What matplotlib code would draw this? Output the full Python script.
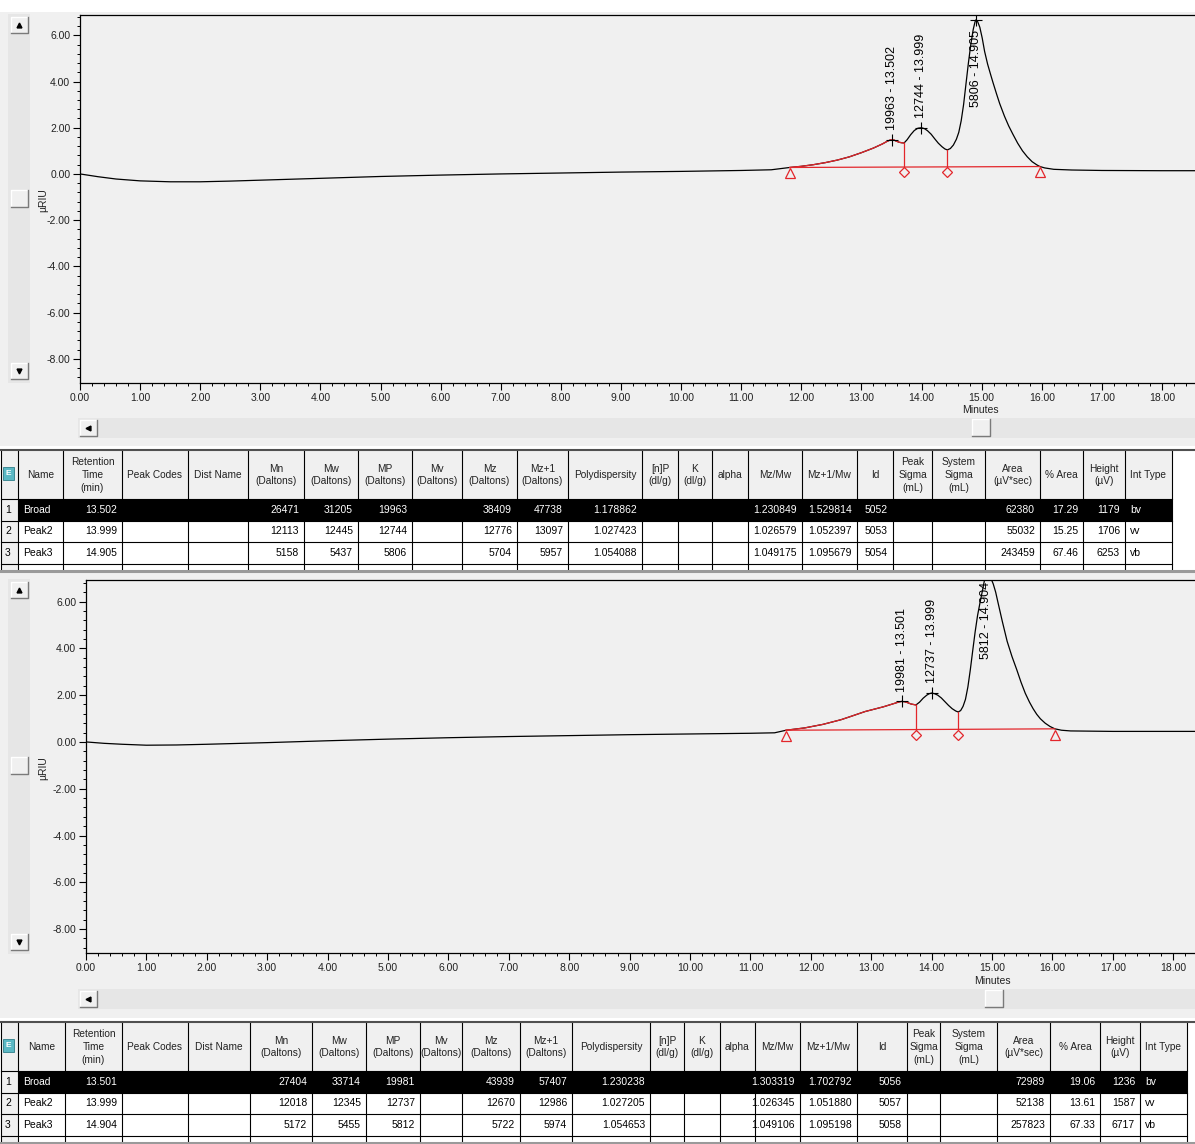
import numpy as np
import matplotlib
matplotlib.use('Agg')
import matplotlib.pyplot as plt
from matplotlib.patches import Rectangle
from matplotlib.ticker import MultipleLocator, FormatStrFormatter

plt.rcParams['font.family'] = ['Liberation Sans', 'DejaVu Sans']

W, H = 1195, 1144

# ---- run 1 trace (minutes, uRIU)
time_1 = [0.0, 0.3, 0.6, 1.0, 1.5, 2.0, 2.5, 3.0, 4.0, 5.0, 6.0, 7.0, 8.0, 9.0, 10.0, 11.0, 11.5, 11.81,
          12.0, 12.2, 12.4, 12.6, 12.8, 13.0, 13.2, 13.35, 13.42, 13.47, 13.502, 13.54, 13.58, 13.63, 13.67, 13.71,
          13.76, 13.82, 13.88, 13.94, 13.999, 14.05, 14.1, 14.16, 14.22, 14.28, 14.34, 14.39, 14.43,
          14.48, 14.53, 14.58, 14.62, 14.66, 14.7, 14.74, 14.78, 14.82, 14.86, 14.89, 14.905,
          14.93, 14.97, 15.01, 15.05, 15.1, 15.15, 15.19, 15.25, 15.3, 15.38, 15.45, 15.52, 15.6, 15.68,
          15.76, 15.84, 15.92, 15.97, 16.05, 16.2, 16.5, 17.0, 18.0, 18.55]
signal_1 = [0.0, -0.12, -0.22, -0.3, -0.34, -0.34, -0.31, -0.27, -0.19, -0.11, -0.05, 0.0, 0.04, 0.08, 0.11, 0.15, 0.18, 0.28,
            0.33, 0.4, 0.49, 0.6, 0.74, 0.92, 1.12, 1.3, 1.4, 1.46, 1.48, 1.47, 1.42, 1.37, 1.35, 1.34,
            1.48, 1.7, 1.88, 1.98, 2.0, 1.96, 1.87, 1.72, 1.52, 1.33, 1.18, 1.08, 1.04,
            1.1, 1.25, 1.5, 1.8, 2.3, 3.0, 3.9, 4.8, 5.6, 6.25, 6.58, 6.67,
            6.62, 6.35, 5.88, 5.3, 4.75, 4.3, 3.95, 3.45, 3.05, 2.5, 2.08, 1.72, 1.33, 1.0,
            0.74, 0.53, 0.39, 0.32, 0.26, 0.2, 0.17, 0.15, 0.14, 0.14]
marks_1 = [11.81, 13.71, 14.43, 15.97]

# ---- run 2 trace
time_2 = [0.0, 0.3, 0.6, 1.0, 1.5, 2.0, 3.0, 4.0, 5.0, 6.0, 7.0, 8.0, 9.0, 10.0, 11.0, 11.4, 11.59,
          11.9, 12.2, 12.5, 12.65, 12.9, 13.2, 13.3, 13.4, 13.46, 13.501, 13.55, 13.6, 13.66, 13.74,
          13.8, 13.86, 13.92, 13.96, 13.999, 14.05, 14.1, 14.16, 14.22, 14.28, 14.34, 14.4, 14.44,
          14.48, 14.52, 14.56, 14.6, 14.64, 14.68, 14.72, 14.76, 14.8, 14.84, 14.87, 14.904,
          14.94, 14.98, 15.02, 15.06, 15.1, 15.17, 15.25, 15.33, 15.41, 15.48, 15.55, 15.62, 15.68,
          15.74, 15.8, 15.88, 15.96, 16.04, 16.15, 16.3, 17.0, 18.0, 18.36]
signal_2 = [0.0, -0.06, -0.1, -0.14, -0.13, -0.1, -0.03, 0.05, 0.12, 0.18, 0.23, 0.27, 0.31, 0.34, 0.37, 0.39, 0.5,
            0.6, 0.75, 0.95, 1.08, 1.3, 1.5, 1.58, 1.66, 1.71, 1.73, 1.72, 1.68, 1.62, 1.58,
            1.7, 1.87, 2.0, 2.06, 2.09, 2.06, 2.0, 1.88, 1.72, 1.56, 1.42, 1.32, 1.28,
            1.34, 1.52, 1.82, 2.35, 3.08, 3.9, 4.7, 5.4, 5.94, 6.45, 6.85, 7.2,
            7.15, 7.0, 6.75, 6.4, 5.94, 5.15, 4.3, 3.65, 3.08, 2.55, 2.08, 1.7, 1.42,
            1.18, 0.99, 0.8, 0.66, 0.56, 0.5, 0.47, 0.45, 0.45, 0.45]
marks_2 = [11.59, 13.74, 14.44, 16.04]
mark_styles = ['^', 'D', 'D', '^']

# ---- result tables
headers = ['Name', 'Retention\nTime\n(min)', 'Peak Codes', 'Dist Name', 'Mn\n(Daltons)', 'Mw\n(Daltons)',
           'MP\n(Daltons)', 'Mv\n(Daltons)', 'Mz\n(Daltons)', 'Mz+1\n(Daltons)', 'Polydispersity',
           '[n]P\n(dl/g)', 'K\n(dl/g)', 'alpha', 'Mz/Mw', 'Mz+1/Mw', 'Id', 'Peak\nSigma\n(mL)',
           'System\nSigma\n(mL)', 'Area\n(µV*sec)', '% Area', 'Height\n(µV)', 'Int Type']
peak_names = ['Broad', 'Peak2', 'Peak3']
int_types = ['bv', 'vv', 'vb']

rt_1 = ['13.502', '13.999', '14.905']
mn_1 = [26471, 12113, 5158]
mw_1 = [31205, 12445, 5437]
mp_1 = [19963, 12744, 5806]
mz_1 = [38409, 12776, 5704]
mz1_1 = [47738, 13097, 5957]
pd_1 = ['1.178862', '1.027423', '1.054088']
mzmw_1 = ['1.230849', '1.026579', '1.049175']
mz1mw_1 = ['1.529814', '1.052397', '1.095679']
id_1 = [5052, 5053, 5054]
area_1 = [62380, 55032, 243459]
pct_1 = ['17.29', '15.25', '67.46']
height_1 = [1179, 1706, 6253]

rt_2 = ['13.501', '13.999', '14.904']
mn_2 = [27404, 12018, 5172]
mw_2 = [33714, 12345, 5455]
mp_2 = [19981, 12737, 5812]
mz_2 = [43939, 12670, 5722]
mz1_2 = [57407, 12986, 5974]
pd_2 = ['1.230238', '1.027205', '1.054653']
mzmw_2 = ['1.303319', '1.026345', '1.049106']
mz1mw_2 = ['1.702792', '1.051880', '1.095198']
id_2 = [5056, 5057, 5058]
area_2 = [72989, 52138, 257823]
pct_2 = ['19.06', '13.61', '67.33']
height_2 = [1236, 1587, 6717]

RED = '#e3262b'
GRAY = '#f0f0f0'

fig = plt.figure(figsize=(W / 100, H / 100), dpi=100, facecolor=GRAY)
bg = fig.add_axes([0, 0, 1, 1])
bg.set_xlim(0, W)
bg.set_ylim(H, 0)
bg.axis('off')


def px_axes(x0, y0, x1, y1):
    return fig.add_axes([x0 / W, 1 - y1 / H, (x1 - x0) / W, (y1 - y0) / H])


def button(x0, y0, x1, y1, glyph=None):
    bg.add_patch(Rectangle((x0, y0), x1 - x0, y1 - y0, fc=GRAY, ec='none'))
    bg.plot([x0, x0, x1], [y1, y0, y0], color='white', lw=1)
    bg.plot([x0, x1, x1], [y1, y1, y0], color='#7a7a7a', lw=1)
    if glyph:
        bg.plot((x0 + x1) / 2, (y0 + y1) / 2, marker=glyph, color='black', ms=3.5)


def scrollbars(vy0, vy1, vthumb, hy, hthumb, minutes_xy):
    # vertical bar
    bg.add_patch(Rectangle((8, vy0), 22, vy1 - vy0, fc='#e6e6e6', ec='none'))
    button(11, vy0 + 3, 28, vy0 + 19, '^')
    button(11, vthumb, 28, vthumb + 17)
    button(11, vy1 - 20, 28, vy1 - 4, 'v')
    # horizontal bar
    bg.add_patch(Rectangle((78, hy), W - 78, 20, fc='#e6e6e6', ec='none'))
    button(80, hy + 2, 97, hy + 18, '<')
    button(hthumb, hy + 1, hthumb + 18, hy + 18)
    bg.text(minutes_xy[0], minutes_xy[1], 'Minutes', ha='center', va='center', fontsize=7.5, color='#222222')


def chart(box, t, s, marks, rts, mps, ylim, xmax, label_tops, mark_off):
    ax = px_axes(*box)
    ax.set_facecolor(GRAY)
    t = np.array(t)
    s = np.array(s)
    ax.plot(t, s, color='black', lw=0.9)
    red = (t >= marks[0]) & (t <= marks[1])
    ax.plot(t[red], s[red], color=RED, lw=0.9)
    base = np.interp([marks[0], marks[-1]], t, s)
    ax.plot([marks[0], marks[-1]], base, color=RED, lw=0.9)
    for m, st in zip(marks, mark_styles):
        b = np.interp(m, [marks[0], marks[-1]], base)
        if st == 'D':
            ax.plot([m, m], [b, np.interp(m, t, s)], color=RED, lw=0.9)
        ax.plot(m, b - mark_off, marker=st, mfc='none', mec=RED, ms=6.5 if st == '^' else 5.5, mew=0.9)
    for rt, mp, top in zip(rts, mps, label_tops):
        x = float(rt)
        y = np.interp(x, t, s)
        ax.plot(x, y, marker='+', color='black', ms=9, mew=0.8)
        txt = f'{mp} - {rt}'
        if top is None:
            ax.text(x, y + 0.42, txt, rotation=90, ha='center', va='bottom', fontsize=9)
        else:
            ax.text(x, top, txt, rotation=90, ha='center', va='top', fontsize=9)
    ax.set_xlim(0, xmax)
    ax.set_ylim(*ylim)
    ax.xaxis.set_major_locator(MultipleLocator(1))
    ax.xaxis.set_minor_locator(MultipleLocator(0.2))
    ax.yaxis.set_major_locator(MultipleLocator(2))
    ax.yaxis.set_minor_locator(MultipleLocator(0.4))
    ax.xaxis.set_major_formatter(FormatStrFormatter('%.2f'))
    ax.yaxis.set_major_formatter(FormatStrFormatter('%.2f'))
    ax.spines['right'].set_visible(False)
    for sp in ['left', 'bottom', 'top']:
        ax.spines[sp].set_linewidth(0.9)
    ax.tick_params(which='major', labelsize=7.5, length=5, width=0.8, pad=2, labelcolor='#222222')
    ax.tick_params(which='minor', length=2.5, width=0.7)
    return ax


def draw_table(y_top, edges, cols):
    hdr_h = 48
    row_h = 21.5
    hdr_bot = y_top + hdr_h
    y_end = hdr_bot + 3 * row_h + 7
    x0, x1 = edges[0], edges[-1]
    bg.add_patch(Rectangle((0, y_top - 5), W, y_end - y_top + 5, fc='white', ec='none'))
    bg.add_patch(Rectangle((x0, y_top), x1 - x0, hdr_h, fc=GRAY, ec='none'))
    bg.add_patch(Rectangle((x0, hdr_bot), edges[1] - x0, y_end - hdr_bot, fc=GRAY, ec='none'))
    for x in edges:
        bg.plot([x, x], [y_top, y_end], color='black', lw=0.8)
    for k in range(4):
        y = hdr_bot + k * row_h
        bg.plot([x0, x1], [y, y], color='black', lw=0.8)
    bg.add_patch(Rectangle((edges[1] + 0.5, hdr_bot + 0.5), x1 - edges[1] - 0.5, row_h - 0.5, fc='black', ec='none', zorder=3))
    bg.plot([0, W], [y_top - 1, y_top - 1], color='#505050', lw=1.5)
    bg.plot([0, W], [y_end, y_end], color='#9a9a9a', lw=2.2)
    # header
    bg.add_patch(Rectangle((x0 + 2, y_top + 16), 11, 13, fc='#5bb8c4', ec='#2f7f8a', lw=0.6))
    bg.text(x0 + 7.5, y_top + 22.5, 'E', ha='center', va='center', fontsize=6, color='white', fontweight='bold')
    for j, h in enumerate(headers):
        cx = (edges[j + 1] + edges[j + 2]) / 2
        bg.text(cx, y_top + hdr_h / 2, h, ha='center', va='center', fontsize=7.3, linespacing=1.35, color='#222222')
    # rows
    left_cols = {0, 22}
    for i in range(3):
        cy = hdr_bot + i * row_h + row_h / 2
        color = 'white' if i == 0 else 'black'
        bg.text(x0 + 4, cy, str(i + 1), ha='left', va='center', fontsize=7.5, color='black')
        for j, col in enumerate(cols):
            val = col[i]
            if val == '':
                continue
            if j in left_cols:
                bg.text(edges[j + 1] + 5, cy, str(val), ha='left', va='center', fontsize=7.5, color=color, zorder=4)
            else:
                bg.text(edges[j + 2] - 5, cy, str(val), ha='right', va='center', fontsize=7.5, color=color, zorder=4)


def table_cols(rt, mn, mw, mp, mz, mz1, pd_, mzmw, mz1mw, ids, area, pct, height):
    blank = ['', '', '']
    return [peak_names, rt, blank, blank, mn, mw, mp, blank, mz, mz1, pd_, blank, blank, blank,
            mzmw, mz1mw, ids, blank, blank, area, pct, height, int_types]


# top strip
bg.add_patch(Rectangle((0, 0), W, 12, fc='white', ec='none'))

# ---- chart 1
scrollbars(14, 383, 190, 418, 972, (980, 410))
chart((80, 15, W, 383), time_1, signal_1, marks_1, rt_1, mp_1, (-9.05, 6.88), 18.55,
      [None, None, 6.22], 0.22)
bg.text(43, 200, 'µRIU', rotation=90, ha='center', va='center', fontsize=7.5, color='#222222')

# ---- table 1
edges_1 = [1, 18, 63, 122, 188, 248, 304, 358, 412, 462, 517, 568, 642, 678, 712, 748, 802, 857,
           893, 932, 985, 1040, 1083, 1125, 1172]
draw_table(451, edges_1, table_cols(rt_1, mn_1, mw_1, mp_1, mz_1, mz1_1, pd_1, mzmw_1, mz1mw_1,
                                    id_1, area_1, pct_1, height_1))

# ---- chart 2
scrollbars(579, 954, 757, 989, 985, (992, 981))
chart((86, 580, W, 953), time_2, signal_2, marks_2, rt_2, mp_2, (-9.02, 6.92), 18.36,
      [None, None, 6.82], 0.25)
bg.text(43, 768, 'µRIU', rotation=90, ha='center', va='center', fontsize=7.5, color='#222222')

# ---- table 2
edges_2 = [1, 18, 65, 122, 188, 250, 312, 366, 420, 462, 520, 572, 650, 684, 720, 755, 800, 857,
           907, 940, 997, 1050, 1100, 1140, 1187]
draw_table(1023, edges_2, table_cols(rt_2, mn_2, mw_2, mp_2, mz_2, mz1_2, pd_2, mzmw_2, mz1mw_2,
                                     id_2, area_2, pct_2, height_2))

fig.savefig('out.png', dpi=100, facecolor=fig.get_facecolor())
